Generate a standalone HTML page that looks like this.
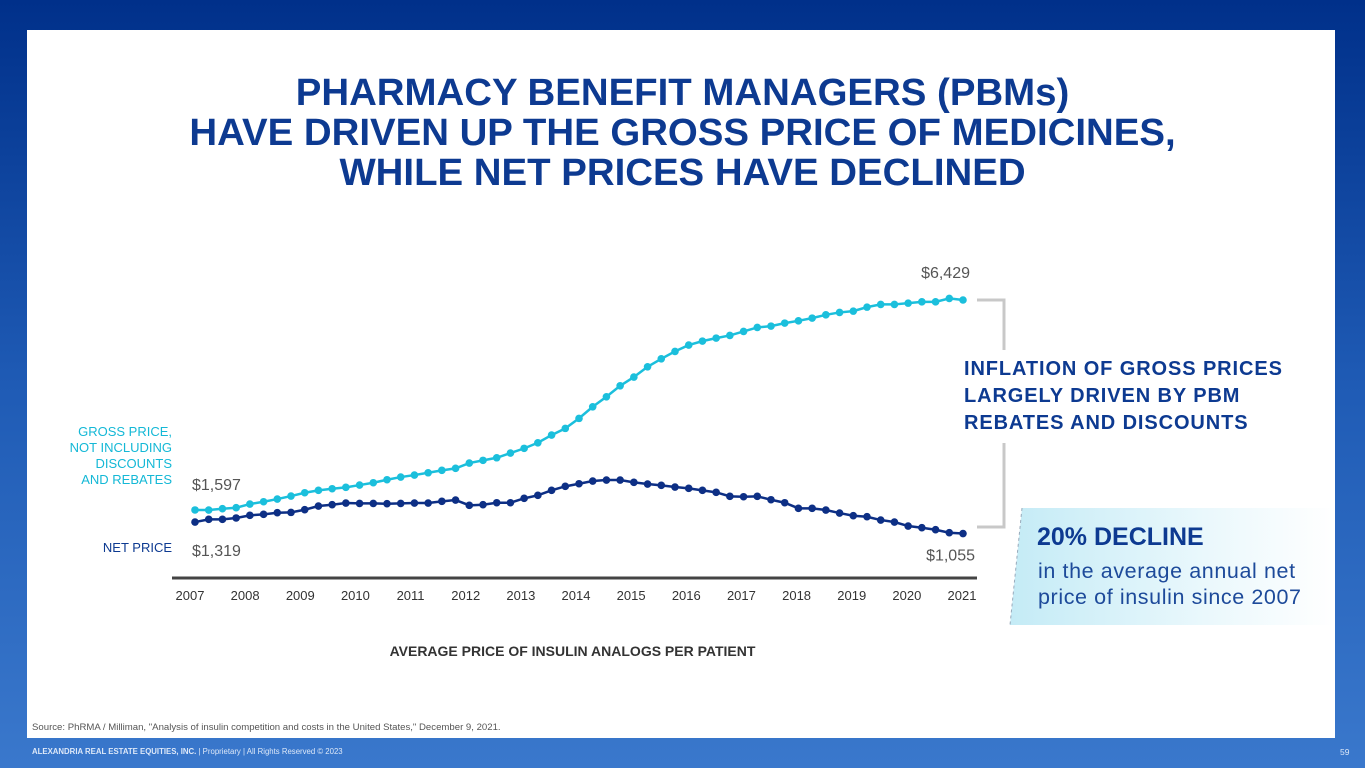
<!DOCTYPE html>
<html><head><meta charset="utf-8">
<style>
html,body{margin:0;padding:0;}
body{width:1365px;height:768px;overflow:hidden;position:relative;font-family:"Liberation Sans",sans-serif;
background:linear-gradient(180deg,#00308a 0%,#1f5bb5 50%,#3a78cc 100%);}
#panel{position:absolute;left:27px;top:30px;width:1308px;height:708px;background:#fff;}
.title{position:absolute;left:0;top:73px;width:1365px;text-align:center;color:#0d3a91;font-weight:bold;font-size:38.4px;line-height:40px;}
.abs{position:absolute;}
</style></head><body>
<div id="panel"></div>
<div class="title">PHARMACY BENEFIT MANAGERS (PBMs)<br>HAVE DRIVEN UP THE GROSS PRICE OF MEDICINES,<br>WHILE NET PRICES HAVE DECLINED</div>

<svg class="abs" style="left:0;top:0" width="1365" height="768">
<defs>
<linearGradient id="cg" x1="0" x2="1" y1="0" y2="0">
<stop offset="0" stop-color="#c4ebf6"/><stop offset="0.6" stop-color="#eaf8fc"/><stop offset="1" stop-color="#ffffff"/>
</linearGradient>
</defs>
<g id="chart"></g>
<polygon points="1022,508 1335,508 1335,625 1010,625" fill="url(#cg)"/>
<line x1="1022" y1="508" x2="1010" y2="625" stroke="#9ab" stroke-width="1" stroke-dasharray="3,3"/>
<path d="M977,300 H1004 V350 M1004,443 V527 H977" fill="none" stroke="#c8c8c8" stroke-width="3"/>
</svg>

<div class="abs" style="left:44px;top:424px;width:128px;text-align:right;color:#14b8d6;font-size:13px;line-height:16px">GROSS PRICE,<br>NOT INCLUDING<br>DISCOUNTS<br>AND REBATES</div>
<div class="abs" style="left:44px;top:540px;width:128px;text-align:right;color:#0d3a91;font-size:13px">NET PRICE</div>
<div class="abs" style="left:964px;top:356px;color:#0d3a91;font-weight:bold;font-size:20px;letter-spacing:0.9px;line-height:27px">INFLATION OF GROSS PRICES<br>LARGELY DRIVEN BY PBM<br>REBATES AND DISCOUNTS</div>
<div class="abs" style="left:1037px;top:523px;color:#0d3a91;font-weight:bold;font-size:25px">20% DECLINE</div>
<div class="abs" style="left:1038px;top:558px;color:#1d4a9a;font-size:21.5px;letter-spacing:0.6px;line-height:26px">in the average annual net<br>price of insulin since 2007</div>
<div class="abs" style="left:0;top:643px;width:1145px;text-align:center;color:#333;font-weight:bold;font-size:14px">AVERAGE PRICE OF INSULIN ANALOGS PER PATIENT</div>
<div class="abs" style="left:32px;top:722px;color:#555;font-size:9.6px">Source: PhRMA / Milliman, "Analysis of insulin competition and costs in the United States," December 9, 2021.</div>
<div class="abs" style="left:32px;top:747px;color:#dde8f8;font-size:7.8px"><b>ALEXANDRIA REAL ESTATE EQUITIES, INC.</b> | Proprietary | All Rights Reserved © 2023</div>
<div class="abs" style="left:1340px;top:747px;color:#dde8f8;font-size:8.5px">59</div>

<script>
const years=["2007","2008","2009","2010","2011","2012","2013","2014","2015","2016","2017","2018","2019","2020","2021"];
const gross=[1597,1596,1626,1649,1734,1787,1849,1918,1994,2049,2086,2118,2171,2224,2293,2355,2401,2454,2509,2555,2677,2739,2799,2907,3015,3144,3321,3475,3705,3972,4202,4455,4655,4892,5076,5246,5391,5483,5552,5614,5706,5798,5828,5897,5950,6012,6088,6143,6173,6265,6327,6327,6357,6387,6387,6465,6429];
const net=[1319,1382,1382,1413,1474,1497,1534,1542,1603,1688,1718,1757,1749,1749,1741,1749,1757,1757,1796,1826,1704,1718,1764,1764,1865,1934,2049,2141,2201,2263,2286,2286,2233,2194,2164,2125,2095,2049,2003,1911,1902,1911,1833,1764,1635,1635,1596,1527,1465,1442,1366,1320,1228,1189,1143,1074,1055];
const labels=["$1,597","$1,319","$6,429","$1,055"];
const NS="http://www.w3.org/2000/svg";
const g=document.getElementById('chart');
const x=i=>195+i*(963-195)/(gross.length-1);
const y=v=>579.4-(579.4-300)*v/6429;
const yearX=i=>190+i*(962-190)/(years.length-1);
function mk(t,a){const e=document.createElementNS(NS,t);for(const k in a)e.setAttribute(k,a[k]);g.appendChild(e);return e;}
const ax=mk('line',{x1:172,x2:977,y1:578,y2:578,stroke:'#444','stroke-width':3});


years.forEach((yr,i)=>{const t=mk('text',{x:yearX(i),y:600,'text-anchor':'middle','font-size':13,fill:'#333','font-family':'Liberation Sans'});t.textContent=yr;

});
function series(d,col,name){
 const p=mk('polyline',{points:d.map((v,i)=>x(i)+','+y(v)).join(' '),fill:'none',stroke:col,'stroke-width':2.5});
 
 
 d.forEach((v,i)=>{const c=mk('circle',{cx:x(i),cy:y(v),r:3.8,fill:col});
 
 });
}
series(gross,'#1bbfdc','gross-price');
series(net,'#0d2f85','net-price');
function lab(txt,xx,yy,anchor){const t=mk('text',{x:xx,y:yy,'text-anchor':anchor,'font-size':16,fill:'#555','font-family':'Liberation Sans'});t.textContent=txt;

}
lab(labels[0],192,y(gross[0])-20,'start');
lab(labels[1],192,y(net[0])+34,'start');
lab(labels[2],970,y(gross[gross.length-1])-22,'end');
lab(labels[3],975,y(net[net.length-1])+27,'end');
</script>
</body></html>
